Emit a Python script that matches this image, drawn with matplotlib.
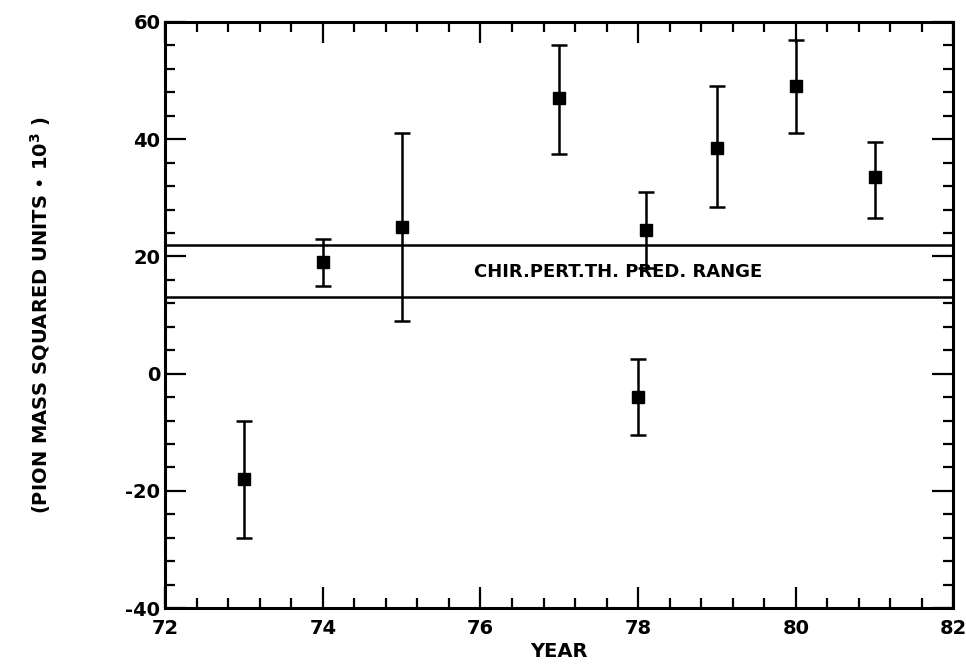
"""
Pion mass squared vs year, with chiral perturbation theory band
"""

import matplotlib
matplotlib.use('Agg')
import matplotlib.pyplot as plt
from matplotlib.ticker import MultipleLocator

# data
years = [73, 74, 75, 77, 78, 78.1, 79, 80, 81]
values = [-18, 19, 25, 47, -4, 24.5, 38.5, 49, 33.5]
err_low = [-28, 15, 9, 37.5, -10.5, 18, 28.5, 41, 26.5]
err_high = [-8, 23, 41, 56, 2.5, 31, 49, 57, 39.5]
band_top = 22
band_bottom = 13
band_label = 'CHIR.PERT.TH. PRED. RANGE'

plt.rcParams['font.family'] = ['DejaVu Sans']
plt.rcParams['font.weight'] = 'bold'
plt.rcParams['axes.labelweight'] = 'bold'
plt.rcParams['axes.unicode_minus'] = False

fig = plt.figure(figsize=(9.66, 6.66), dpi=100)
ax = fig.add_axes([0.171, 0.087, 0.816, 0.880])

yerr = [[v - lo for v, lo in zip(values, err_low)],
        [hi - v for v, hi in zip(values, err_high)]]
ax.errorbar(years, values, yerr=yerr, fmt='s', color='black',
            markersize=9, elinewidth=1.8, capsize=6, capthick=1.8)

ax.axhline(band_top, color='black', linewidth=1.8)
ax.axhline(band_bottom, color='black', linewidth=1.8)
ax.text(77.75, 17.3, band_label, ha='center', va='center', fontsize=13)

ax.set_xlim(72, 82)
ax.set_ylim(-40, 60)
ax.xaxis.set_major_locator(MultipleLocator(2))
ax.xaxis.set_minor_locator(MultipleLocator(0.4))
ax.yaxis.set_major_locator(MultipleLocator(20))
ax.yaxis.set_minor_locator(MultipleLocator(4))
ax.tick_params(which='both', direction='in', top=True, right=True,
               width=1.6, labelsize=14)
ax.tick_params(axis='x', which='major', pad=8)
ax.tick_params(which='major', length=15)
ax.tick_params(which='minor', length=7)
for spine in ax.spines.values():
    spine.set_linewidth(2.2)

ax.set_xlabel('YEAR', fontsize=14, labelpad=3)
ax.set_ylabel('(PION MASS SQUARED UNITS \u2022 10$^\\mathbf{3}$ )', fontsize=14, labelpad=52)

fig.savefig('out.png', dpi=100)
